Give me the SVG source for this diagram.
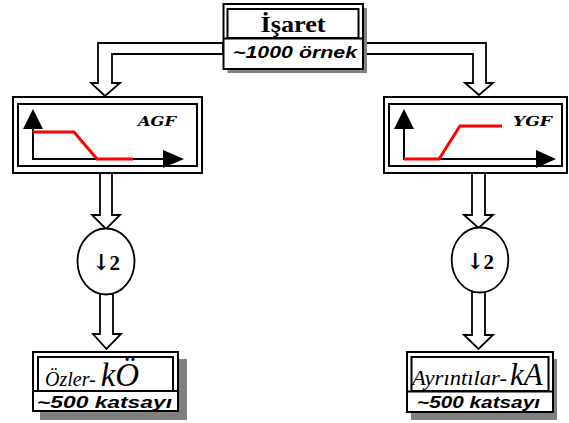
<svg xmlns="http://www.w3.org/2000/svg" width="569" height="423" viewBox="0 0 569 423">
<style>
.b{fill:#fff;stroke:#000;stroke-width:2}
.bi{fill:none;stroke:#000;stroke-width:2}
.sh{fill:#808080}
.ar{fill:#fff;stroke:#000;stroke-width:1.8;stroke-linejoin:miter}
.ax{fill:none;stroke:#000;stroke-width:2}
.tri{fill:#000}
.red{fill:none;stroke:#ff0000;stroke-width:3}
.gf{font-family:"DejaVu Serif","Liberation Serif",serif;font-weight:bold;font-style:italic;font-size:13px}
.num{font-family:"Liberation Sans",Arial,sans-serif;font-weight:bold;font-style:italic;font-size:16.5px}
.ti{font-family:"Liberation Serif","Times New Roman",serif;font-style:italic}
.dn{font-family:"Liberation Serif","Times New Roman",serif;font-weight:bold;font-size:21px}
.arw{font-family:"DejaVu Serif","DejaVu Sans",serif;font-weight:bold;font-size:22px}
</style>
<rect width="569" height="423" fill="#fff"/>
<g id="connectors">
<polygon class="ar" points="223,43 98,43 98,83 91,83 105,96 120,83 112,83 112,54 223,54"/>
<polygon class="ar" points="363,43 486,43 486,83 493,83 479,95 465,83 473,83 473,54 363,54"/>
<polygon class="ar" points="100,173 100,215 92,215 106,229 120,215 112,215 112,173"/>
<polygon class="ar" points="472,173 472,215 464,215 478.5,228 493,215 485,215 485,173"/>
<polygon class="ar" points="100,294 100,334 93,334 106.5,349 121,334 113,334 113,294"/>
<polygon class="ar" points="472,292 472,335 464,335 478.5,349 493,335 485,335 485,292"/>
</g>
<g id="isaret">
<rect class="sh" x="227.5" y="8" width="139.5" height="65"/>
<rect class="b" x="223.5" y="4" width="139.5" height="65"/>
<rect class="bi" x="227.5" y="9" width="131" height="29"/>
<line x1="223.5" y1="38.5" x2="363" y2="38.5" stroke="#000" stroke-width="2"/>
<text x="293" y="32" text-anchor="middle" font-family="Liberation Serif,'Times New Roman',serif" font-weight="bold" font-size="24" textLength="65" lengthAdjust="spacingAndGlyphs">İşaret</text>
<text class="num" x="233" y="58" textLength="124" lengthAdjust="spacingAndGlyphs">~1000 örnek</text>
</g>
<g id="agf">
<rect class="b" x="13" y="97" width="189" height="76"/>
<rect class="bi" x="18" y="104" width="179" height="62"/>
<polyline class="ax" points="33,128 33,159 165,159"/>
<polygon class="tri" points="33,109 43,129 23,129"/>
<polygon class="tri" points="163,150 184,159 163,168"/>
<polyline class="red" points="33,132 74,132 97,159 133,159"/>
<text class="gf" x="138" y="126" textLength="38" lengthAdjust="spacingAndGlyphs">AGF</text>
</g>
<g id="ygf">
<rect class="b" x="384" y="97" width="183" height="76"/>
<rect class="bi" x="389" y="104" width="173" height="62"/>
<polyline class="ax" points="404,128 404,159 538,159"/>
<polygon class="tri" points="404,109 414,129 394,129"/>
<polygon class="tri" points="536,150 556,159 536,168"/>
<polyline class="red" points="404,159 439,159 460,126 502,126"/>
<text class="gf" x="513" y="126" textLength="39" lengthAdjust="spacingAndGlyphs">YGF</text>
</g>
<g id="down-left">
<ellipse cx="106" cy="261.5" rx="28.5" ry="33" fill="#fff" stroke="#000" stroke-width="1.8"/>
<text x="92" y="270"><tspan class="arw">↓</tspan><tspan class="dn" dx="-1">2</tspan></text>
</g>
<g id="down-right">
<ellipse cx="480" cy="260" rx="28.3" ry="32.5" fill="#fff" stroke="#000" stroke-width="1.8"/>
<text x="466" y="269"><tspan class="arw">↓</tspan><tspan class="dn" dx="-1">2</tspan></text>
</g>
<g id="ozler">
<rect class="sh" x="40" y="359" width="147" height="61"/>
<rect class="b" x="33" y="352" width="145" height="59"/>
<rect class="bi" x="38" y="357" width="135" height="34"/>
<line x1="33" y1="391" x2="178" y2="391" stroke="#000" stroke-width="2"/>
<text class="ti" x="45" y="386" font-size="20">Özler- <tspan font-size="33">kÖ</tspan></text>
<text class="num" x="37" y="408" textLength="135" lengthAdjust="spacingAndGlyphs">~500 katsayı</text>
</g>
<g id="ayrintilar">
<rect class="sh" x="411" y="359" width="146" height="61"/>
<rect class="b" x="407" y="352" width="146" height="60"/>
<rect class="bi" x="411.5" y="357" width="137" height="34"/>
<line x1="407" y1="391.5" x2="553" y2="391.5" stroke="#000" stroke-width="2"/>
<text class="ti" x="412" y="385" font-size="20" textLength="95" lengthAdjust="spacingAndGlyphs">Ayrıntılar-</text>
<text class="ti" x="510" y="385" font-size="31">kA</text>
<text class="num" x="417" y="408" textLength="123" lengthAdjust="spacingAndGlyphs">~500 katsayı</text>
</g>
</svg>
